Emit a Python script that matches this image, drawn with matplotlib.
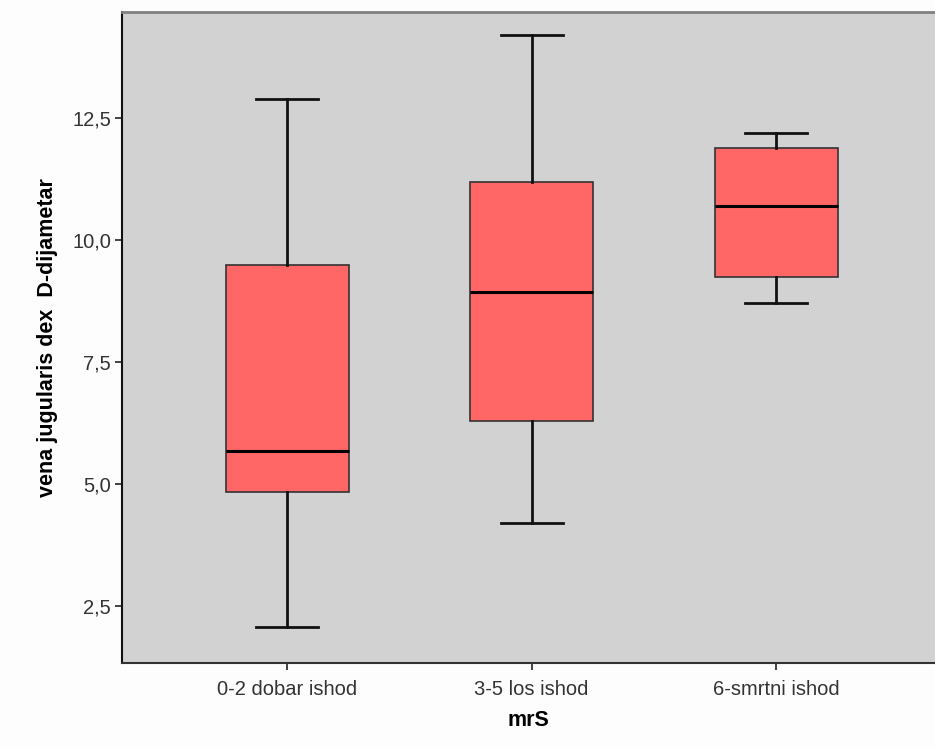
import matplotlib.pyplot as plt
from matplotlib.ticker import FuncFormatter

groups = ['0-2 dobar ishod', '3-5 los ishod', '6-smrtni ishod']
whislo = [2.07, 4.20, 8.71]
q1 = [4.84, 6.29, 9.24]
med = [5.68, 8.93, 10.70]
q3 = [9.49, 11.19, 11.89]
whishi = [12.89, 14.20, 12.19]
yticks = [2.5, 5.0, 7.5, 10.0, 12.5]

plt.rcParams['font.family'] = ['Liberation Sans', 'DejaVu Sans']

fig = plt.figure(figsize=(9.35, 7.48), dpi=100, facecolor='#fdfdfd')
ax = fig.add_axes([122/935, 1 - 663/748, 1 - 122/935, (663 - 12)/748])
ax.set_facecolor('#d2d2d2')

stats = []
for i, g in enumerate(groups):
    stats.append(dict(label=g, whislo=whislo[i], q1=q1[i], med=med[i],
                      q3=q3[i], whishi=whishi[i], fliers=[]))

ax.bxp(stats, positions=[1, 2, 3], widths=0.503, patch_artist=True,
       showfliers=False,
       boxprops=dict(facecolor='#ff6666', edgecolor='#333333', linewidth=1.2),
       medianprops=dict(color='black', linewidth=2.2),
       whiskerprops=dict(color='#111111', linewidth=2),
       capprops=dict(color='#111111', linewidth=2),
       capwidths=0.254)

ax.set_xlim(0.325, 3.65)
ax.set_ylim(1.33, 14.67)
ax.set_yticks(yticks)
ax.yaxis.set_major_formatter(FuncFormatter(lambda v, p: f'{v:.1f}'.replace('.', ',')))
ax.tick_params(axis='both', direction='out', length=5, width=1.2, color='#222222',
               labelsize=14.5, labelcolor='#333333')
ax.tick_params(axis='x', pad=7)
ax.tick_params(axis='y', pad=3)

ax.spines['right'].set_visible(False)
ax.spines['left'].set_color('#111111')
ax.spines['left'].set_linewidth(1.5)
ax.spines['bottom'].set_color('#333333')
ax.spines['bottom'].set_linewidth(1.5)
ax.spines['top'].set_color('#808080')
ax.spines['top'].set_linewidth(2)

ax.set_xlabel('mrS', fontsize=15.5, fontweight='bold', labelpad=8)
ax.set_ylabel('vena jugularis dex  D-dijametar', fontsize=15.5, fontweight='bold', labelpad=10)

fig.savefig('out.png', dpi=100, facecolor=fig.get_facecolor())
